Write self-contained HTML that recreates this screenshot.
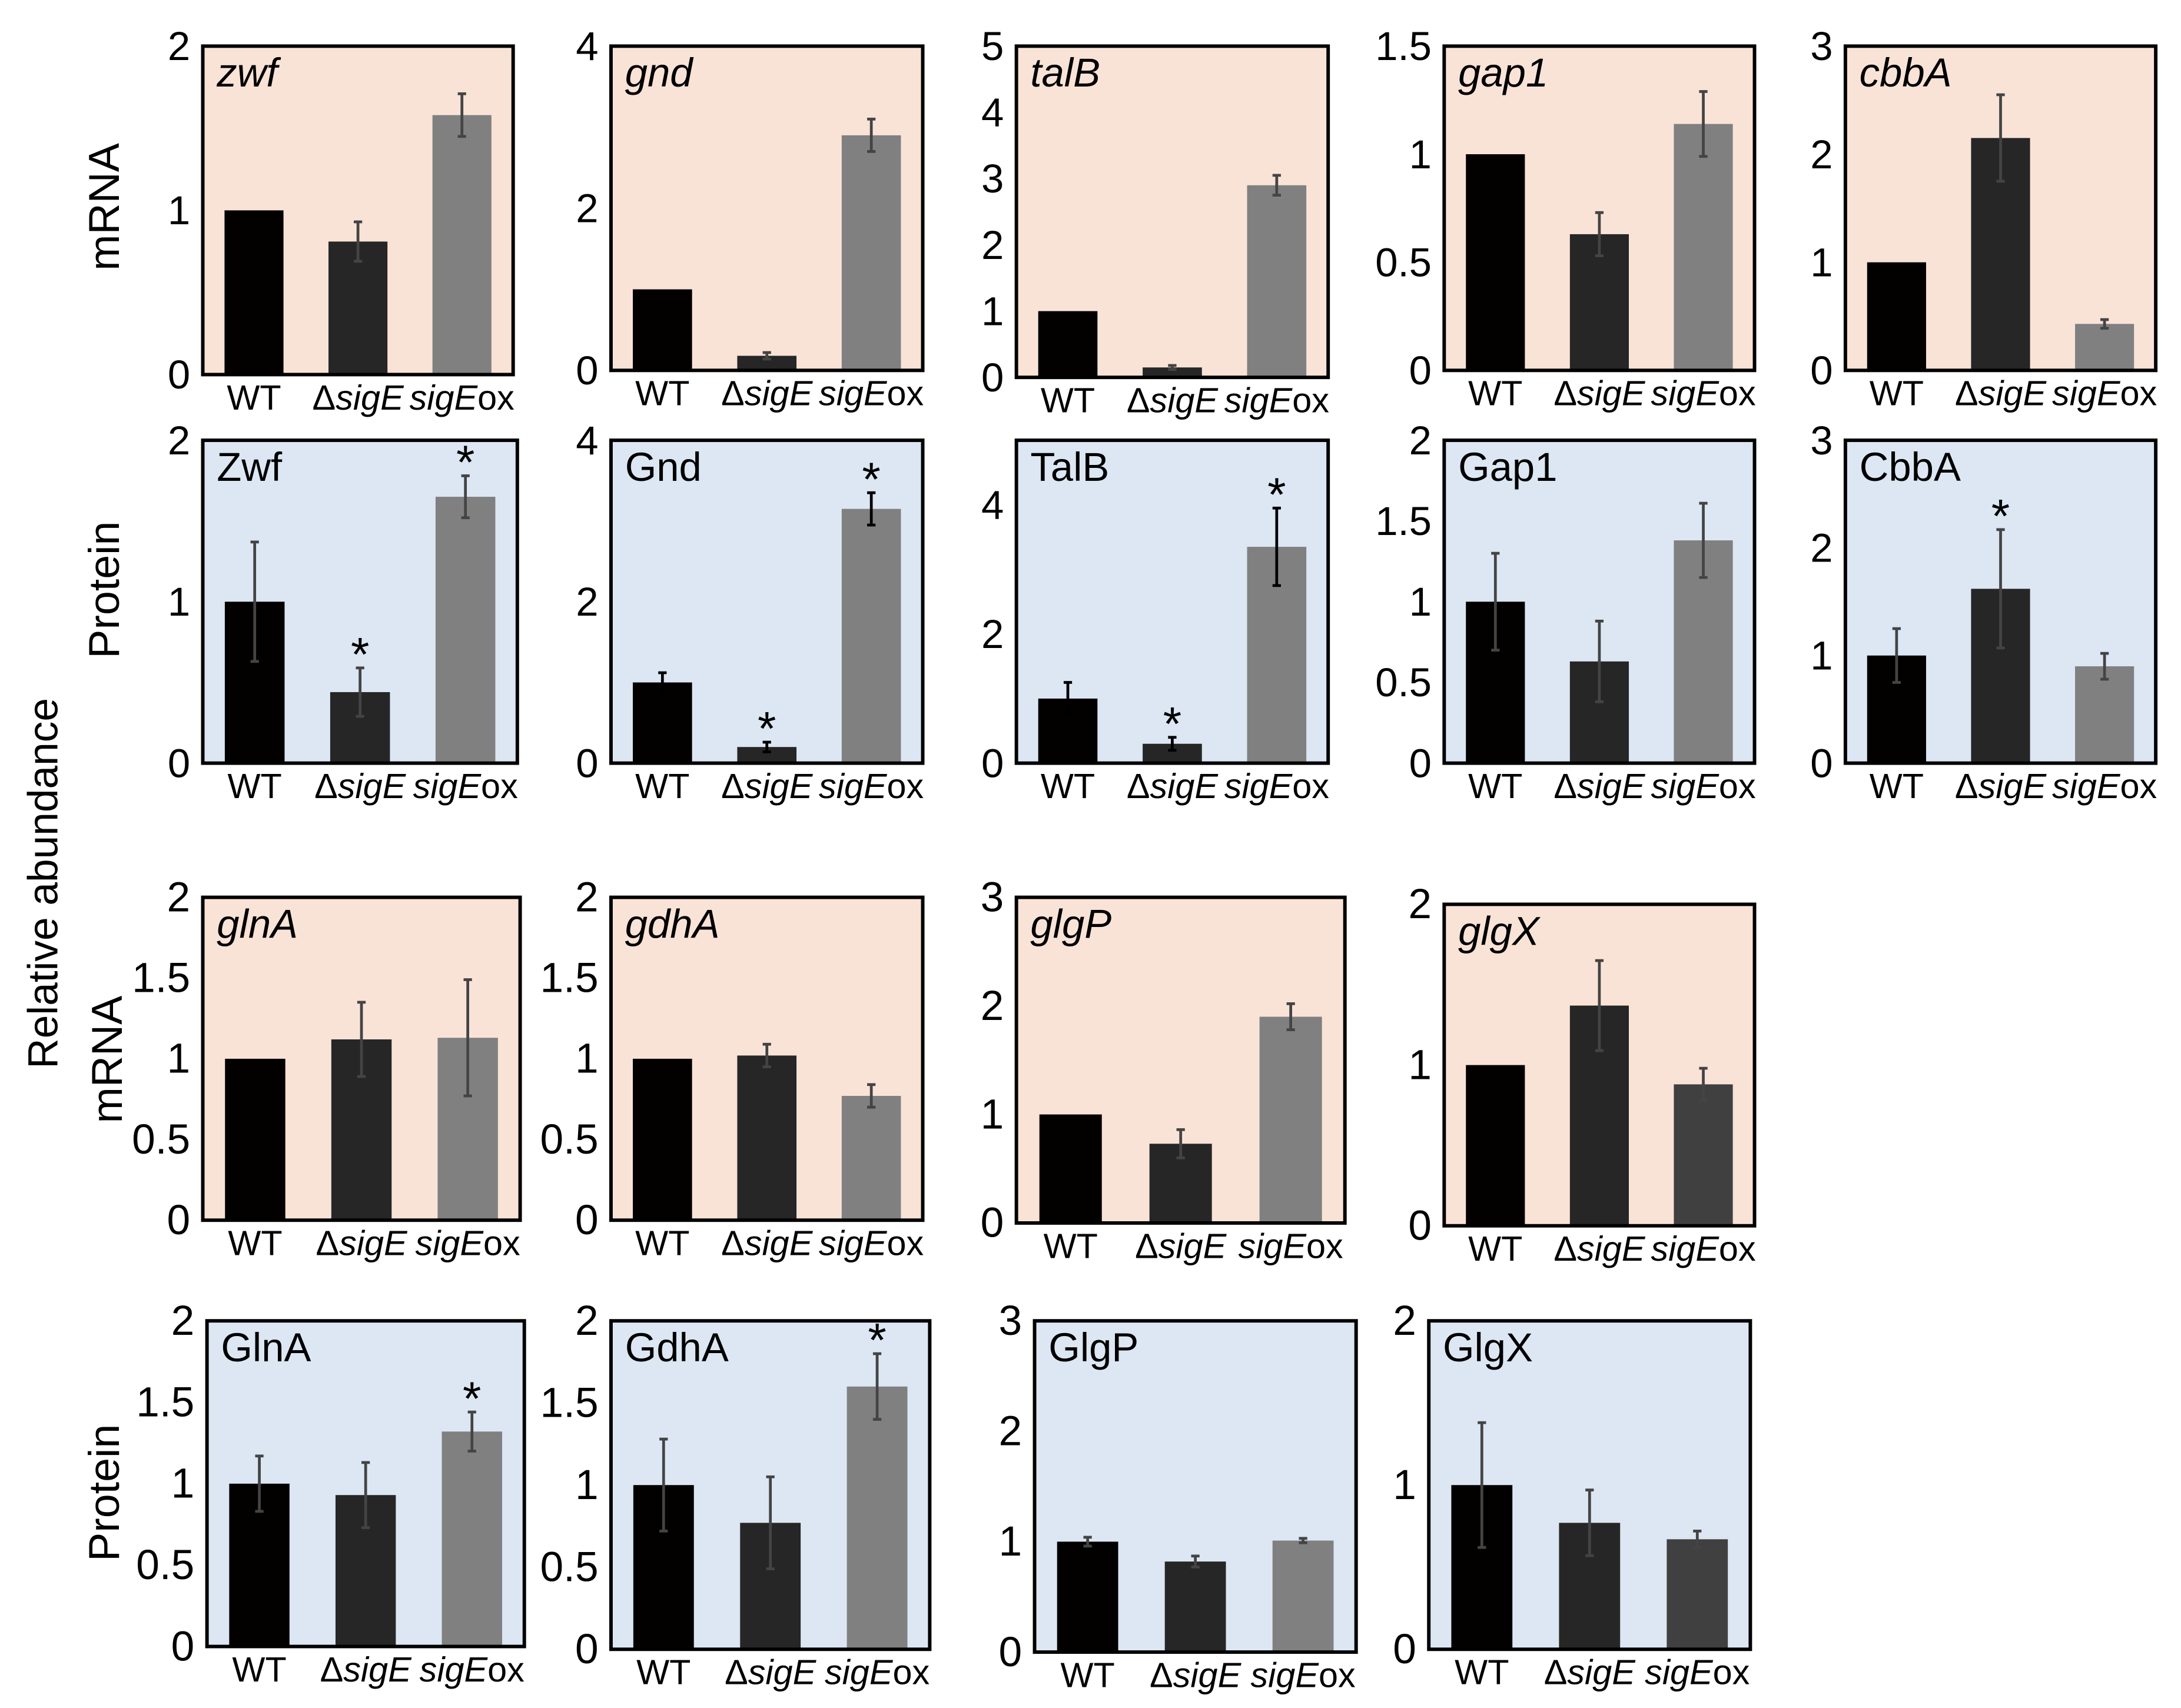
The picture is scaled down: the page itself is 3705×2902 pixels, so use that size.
<!DOCTYPE html>
<html><head><meta charset="utf-8">
<style>
html,body{margin:0;padding:0;background:#fff;}
svg{display:block;}
text{font-family:"Liberation Sans",Arial,sans-serif;fill:#000;}
</style></head>
<body>
<svg id="fig" width="3705" height="2902" viewBox="0 0 1560 1222" xmlns="http://www.w3.org/2000/svg">
<text x="0" y="0" font-size="30" text-anchor="middle" transform="translate(41,632) rotate(-90)">Relative abundance</text>
<text font-size="31" text-anchor="middle" transform="translate(85,148) rotate(-90)">mRNA</text>
<text font-size="31" text-anchor="middle" transform="translate(85,422) rotate(-90)">Protein</text>
<text font-size="31" text-anchor="middle" transform="translate(87,758) rotate(-90)">mRNA</text>
<text font-size="31" text-anchor="middle" transform="translate(85,1068) rotate(-90)">Protein</text>
</svg>
<script>
const titles = ["zwf","gnd","talB","gap1","cbbA","Zwf","Gnd","TalB","Gap1","CbbA","glnA","gdhA","glgP","glgX","GlnA","GdhA","GlgP","GlgX"];
const italicTitle = [1,1,1,1,1,0,0,0,0,0,1,1,1,1,0,0,0,0];
const yMax = [2,4,5,1.5,3, 2,4,5,2,3, 2,2,3,2, 2,2,3,2];
const yTicks = [[0,1,2],[0,2,4],[0,1,2,3,4,5],[0,0.5,1,1.5],[0,1,2,3],
 [0,1,2],[0,2,4],[0,2,4],[0,0.5,1,1.5,2],[0,1,2,3],
 [0,0.5,1,1.5,2],[0,0.5,1,1.5,2],[0,1,2,3],[0,1,2],
 [0,0.5,1,1.5,2],[0,0.5,1,1.5,2],[0,1,2,3],[0,1,2]];
const categories = ["WT","ΔsigE","sigEox"];
const wtValues = [1,1,1,1,1, 1,1,1,1,1, 1,1,1,1, 1,1,1,1];
const sigEValues = [0.81,0.18,0.15,0.63,2.15, 0.44,0.2,0.3,0.63,1.62, 1.12,1.02,0.73,1.37, 0.93,0.77,0.82,0.77];
const oxValues = [1.58,2.9,2.9,1.14,0.43, 1.65,3.15,3.35,1.38,0.9, 1.13,0.77,1.9,0.88, 1.32,1.6,1.01,0.67];
const wtErr = [0,0,0,0,0, 0.37,0.12,0.25,0.3,0.25, 0,0,0,0, 0.17,0.28,0.04,0.38];
const sigEErr = [0.12,0.04,0.03,0.1,0.4, 0.15,0.06,0.1,0.25,0.55, 0.23,0.07,0.13,0.28, 0.2,0.28,0.05,0.2];
const oxErr = [0.13,0.2,0.15,0.15,0.04, 0.13,0.2,0.6,0.23,0.12, 0.36,0.07,0.12,0.1, 0.12,0.2,0.02,0.05];
const sigEStar = [0,0,0,0,0, 1,1,1,0,1, 0,0,0,0, 0,0,0,0];
const oxStar = [0,0,0,0,0, 1,1,1,0,0, 0,0,0,0, 1,1,0,0];

const boxes = [[145,33,367,268],[437,33,660,265],[727,33,950,270],[1033,33,1255,265],[1320,33,1542,265],
 [145,315,370,546],[437,315,660,546],[727,315,950,546],[1033,315,1255,546],[1320,315,1542,546],
 [145,642,372,873],[437,642,660,873],[727,642,962,875],[1033,647,1255,877],
 [148,945,375,1178],[437,945,665,1180],[740,945,970,1182],[1022,945,1252,1180]];

const NS="http://www.w3.org/2000/svg";
const svg=document.getElementById('fig');
function mk(tag,attrs,parent){const e=document.createElementNS(NS,tag);for(const k in attrs)e.setAttribute(k,attrs[k]);(parent||svg).appendChild(e);return e;}

titles.forEach((t,i)=>{
  const [x0,y0,x1,y1]=boxes[i];
  const protein=(i>=5&&i<10)||i>=14;
  const g=mk('g',{});
  
  
  const bg=mk('rect',{x:x0,y:y0,width:x1-x0,height:y1-y0,fill:protein?'#dce7f3':'#f9e3d7'},g);
  
  
  const yScale=v=>y1-(v/yMax[i])*(y1-y0);
  const w=x1-x0;
  const xScale=k=>x0+w*[0.165,0.5,0.835][k];
  const bw=w*0.19;
  const vals=[wtValues[i],sigEValues[i],oxValues[i]];
  const errs=[wtErr[i],sigEErr[i],oxErr[i]];
  const stars=[0,sigEStar[i],oxStar[i]];
  const cols=['#030000','#262626',(i===13||i===17)?'#404040':'#808080'];
  const bigFont=i>=10?30:29;
  vals.forEach((v,k)=>{
    const cx=xScale(k);
    const b=mk('rect',{x:cx-bw/2,y:yScale(v),width:bw,height:y1-yScale(v),fill:cols[k]},g);
    
    
    const e=errs[k];
    const ec=(protein&&(i===7||i===6))?'#000':'#444';
    if(e>0){
      const eg=mk('g',{stroke:ec,'stroke-width':2},g);
      
      
      mk('line',{x1:cx,x2:cx,y1:yScale(v-e),y2:yScale(v+e)},eg);
      mk('line',{x1:cx-3,x2:cx+3,y1:yScale(v-e),y2:yScale(v-e)},eg);
      mk('line',{x1:cx-3,x2:cx+3,y1:yScale(v+e),y2:yScale(v+e)},eg);
    }
    if(stars[k]){
      const s=mk('text',{x:cx,y:yScale(v+e)+2,'font-size':34,'text-anchor':'middle'},g);
      s.textContent='*';
      
      
    }
    const lab=mk('text',{x:cx,y:y1+25,'font-size':25,'text-anchor':'middle'},g);
    
    
    if(k===0){lab.textContent='WT';}
    else if(k===1){lab.appendChild(document.createTextNode('Δ'));const ts=mk('tspan',{'font-style':'italic'},lab);ts.textContent='sigE';}
    else {const ts=mk('tspan',{'font-style':'italic'},lab);ts.textContent='sigE';lab.appendChild(document.createTextNode('ox'));}
  });
  const fr=mk('rect',{x:x0,y:y0,width:w,height:y1-y0,fill:'none',stroke:'#000','stroke-width':2.5},g);
  
  
  yTicks[i].forEach(tv=>{
    const tl=mk('text',{x:x0-9,y:yScale(tv)+10,'font-size':bigFont,'text-anchor':'end'},g);
    tl.textContent=String(tv);
    
    
  });
  const tt=mk('text',{x:x0+10,y:y0+29,'font-size':29,'font-style':italicTitle[i]?'italic':'normal'},g);
  tt.textContent=t;
  
  
});
</script>
</body></html>
